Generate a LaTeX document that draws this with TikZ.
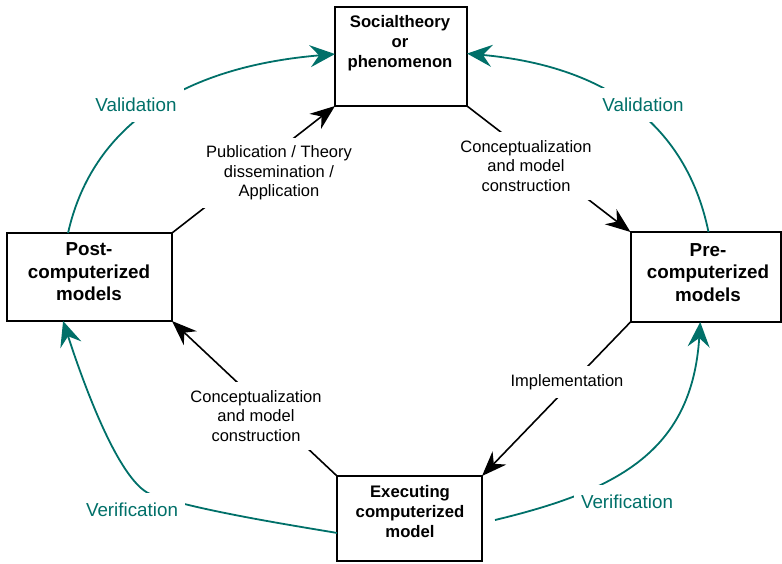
\documentclass[tikz,border=0pt]{standalone}
\usepackage{fontspec}
\setmainfont{Liberation Sans}
\usetikzlibrary{arrows.meta,calc}
\definecolor{tealc}{RGB}{0,112,105}
\tikzset{
  box/.style={draw=black, line width=2pt, inner sep=0pt, outer sep=0pt},
  boxtxt/.style={align=center, inner sep=0pt, font=\bfseries\fontsize{16.7}{20}\selectfont},
  boxtxtbig/.style={align=center, inner sep=0pt, font=\bfseries\fontsize{18.8}{22.5}\selectfont},
  blk/.style={draw=black, line width=1.6pt, -{Stealth[length=25pt,width=19pt,inset=8pt]}},
  tea/.style={draw=tealc, line width=1.8pt, -{Stealth[length=25pt,width=22pt,inset=9pt]}},
  elabel/.style={fill=white, inner xsep=7pt, inner ysep=8pt, align=center, font=\fontsize{16.5}{19.5}\selectfont},
  vlabel/.style={fill=white, inner xsep=7pt, inner ysep=10pt, text=tealc, font=\fontsize{18.8}{22}\selectfont}
}
\begin{document}
\begin{tikzpicture}[x=1pt,y=-1pt]
\useasboundingbox (0,0) rectangle (782,563);
% boxes
\node[box, minimum width=132pt, minimum height=99pt] (top) at (401,56.5) {};
\node[box, minimum width=165pt, minimum height=88pt] (post) at (89.5,277) {};
\node[box, minimum width=150pt, minimum height=90pt] (pre) at (705.5,277) {};
\node[box, minimum width=145pt, minimum height=85pt] (exec) at (409.5,518.5) {};
\node[boxtxt] (toptxt) at (400,43.5) {Socialtheory\\or\\phenomenon};
\node[boxtxtbig] (posttxt) at (89,272) {Post-\\computerized\\models};
\node[boxtxtbig] (pretxt) at (708,272.5) {Pre-\\computerized\\models};
\node[boxtxt] (exectxt) at (410,512) {Executing\\computerized\\model};
% black connectors
\draw[blk] (post.north east) -- (top.south west);
\draw[blk] (top.south east) -- (pre.north west);
\draw[blk] (pre.south west) -- (exec.north east);
\draw[blk] (exec.north west) -- (post.south east);
% teal curves
\coordinate (vrs) at (495,520);
\coordinate (vlm) at (150,494);
\draw[tea] ($(post.north west)!0.37!(post.north east)$) .. controls (90,135) and (170,68) .. ($(top.north west)!0.475!(top.south west)$);
\draw[tea] ($(pre.north west)!0.52!(pre.north east)$) .. controls (688,132) and (615,67) .. ($(top.north east)!0.47!(top.south east)$);
\draw[tea] ($(exec.north west)!0.67!(exec.south west)$) .. controls (290,525) and (195,510) .. (vlm) .. controls (118,480) and (83,382) .. ($(post.south west)!0.34!(post.south east)$);
\draw[tea] (vrs) .. controls (620,490) and (692,450) .. ($(pre.south west)!0.465!(pre.south east)$);
% labels
\node[elabel] (l1) at (279,173) {Publication / Theory\\dissemination /\\Application};
\node[elabel] (l2) at (526,166) {Conceptualization\\and model\\construction};
\node[elabel] (l3) at (567,382) {Implementation};
\node[elabel] (l4) at (256,416) {Conceptualization\\and model\\construction};
\node[vlabel] (v1) at (136,105) {Validation};
\node[vlabel] (v2) at (643,105) {Validation};
\node[vlabel] (v3) at (132,510) {Verification};
\node[vlabel] (v4) at (627,502) {Verification};
\end{tikzpicture}
\end{document}
